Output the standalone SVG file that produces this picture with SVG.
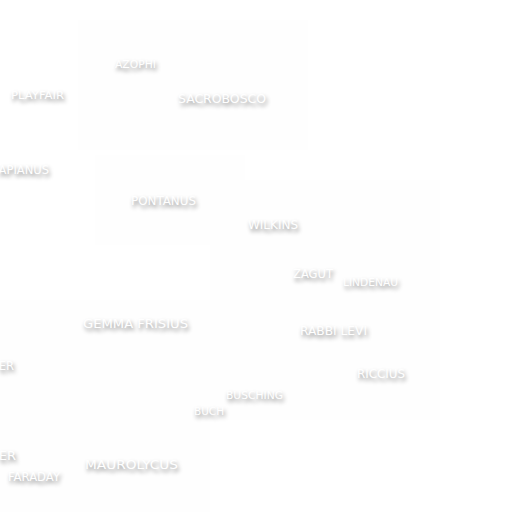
<svg xmlns="http://www.w3.org/2000/svg" xmlns:xlink="http://www.w3.org/1999/xlink" width="512" height="512" viewBox="0 0 512 512">
<defs>
<filter id="blur" x="-20%" y="-80%" width="140%" height="300%">
<feGaussianBlur stdDeviation="2.2"/>
</filter>
</defs>
<style>
text{font-family:"DejaVu Sans","Liberation Sans",sans-serif;}
#labels g{fill:#fff}
use.shd{fill:#000;opacity:0.5;filter:url(#blur);}
.s{font-size:10.5px}
.m{font-size:11.5px}
.l{font-size:13px}
</style>
<rect width="512" height="512" fill="#fff"/>
<g fill="#fefefe">
<rect x="78" y="20" width="230" height="130"/>
<rect x="95" y="155" width="150" height="90"/>
<rect x="210" y="180" width="230" height="240"/>
<rect x="0" y="300" width="210" height="212"/>
</g>
<g id="labels">
<g id="azophi"><use class="shd" href="#t1" x="1.5" y="3"/><text id="t1" class="s" x="115" y="68" textLength="41" lengthAdjust="spacingAndGlyphs">AZOPHI</text></g>
<g id="playfair"><use class="shd" href="#t2" x="1.5" y="3"/><text id="t2" class="s" x="11" y="99" textLength="53" lengthAdjust="spacingAndGlyphs">PLAYFAIR</text></g>
<g id="sacrobosco"><use class="shd" href="#t3" x="1.5" y="3"/><text id="t3" class="l" x="178" y="103" textLength="88" lengthAdjust="spacingAndGlyphs">SACROBOSCO</text></g>
<g id="apianus"><use class="shd" href="#t4" x="1.5" y="3"/><text id="t4" class="m" x="49" y="174" text-anchor="end">APIANUS</text></g>
<g id="pontanus"><use class="shd" href="#t5" x="1.5" y="3"/><text id="t5" class="m" x="131" y="205" textLength="65" lengthAdjust="spacingAndGlyphs">PONTANUS</text></g>
<g id="wilkins"><use class="shd" href="#t6" x="1.5" y="3"/><text id="t6" class="m" x="248" y="229" textLength="50" lengthAdjust="spacingAndGlyphs">WILKINS</text></g>
<g id="zagut"><use class="shd" href="#t7" x="1.5" y="3"/><text id="t7" class="l" x="293" y="278" textLength="40" lengthAdjust="spacingAndGlyphs">ZAGUT</text></g>
<g id="lindenau"><use class="shd" href="#t8" x="1.5" y="3"/><text id="t8" class="s" x="343" y="286" textLength="55" lengthAdjust="spacingAndGlyphs">LINDENAU</text></g>
<g id="gemma"><use class="shd" href="#t9" x="1.5" y="3"/><text id="t9" class="l" x="83" y="328" textLength="105" lengthAdjust="spacingAndGlyphs">GEMMA FRISIUS</text></g>
<g id="rabbi"><use class="shd" href="#t10" x="1.5" y="3"/><text id="t10" class="m" x="300" y="335" textLength="67" lengthAdjust="spacingAndGlyphs">RABBI LEVI</text></g>
<g id="er1"><use class="shd" href="#t11" x="1.5" y="3"/><text id="t11" class="m" x="14" y="370" text-anchor="end">ER</text></g>
<g id="riccius"><use class="shd" href="#t12" x="1.5" y="3"/><text id="t12" class="m" x="357" y="378" textLength="48" lengthAdjust="spacingAndGlyphs">RICCIUS</text></g>
<g id="busching"><use class="shd" href="#t13" x="1.5" y="3"/><text id="t13" class="s" x="226" y="399" textLength="57" lengthAdjust="spacingAndGlyphs">BUSCHING</text></g>
<g id="buch"><use class="shd" href="#t14" x="1.5" y="3"/><text id="t14" class="s" x="194" y="415" textLength="30" lengthAdjust="spacingAndGlyphs">BUCH</text></g>
<g id="er2"><use class="shd" href="#t15" x="1.5" y="3"/><text id="t15" class="l" x="16" y="460" text-anchor="end" font-size="14">ER</text></g>
<g id="faraday"><use class="shd" href="#t16" x="1.5" y="3"/><text id="t16" class="m" x="8" y="481" textLength="52" lengthAdjust="spacingAndGlyphs">FARADAY</text></g>
<g id="maurolycus"><use class="shd" href="#t17" x="1.5" y="3"/><text id="t17" class="l" x="85" y="469" textLength="93" lengthAdjust="spacingAndGlyphs">MAUROLYCUS</text></g>
</g>
</svg>
